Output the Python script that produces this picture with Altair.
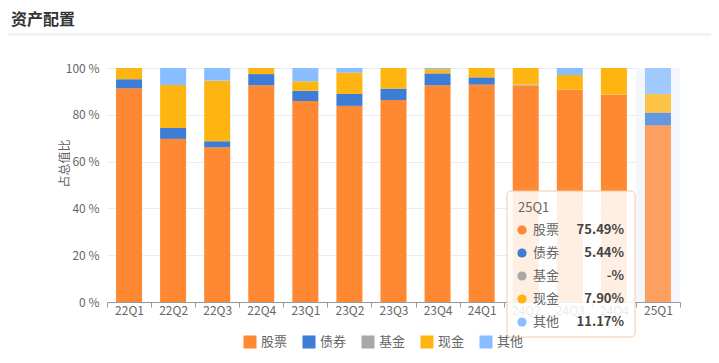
import altair as alt
import pandas as pd

quarters = ["22Q1", "22Q2", "22Q3", "22Q4", "23Q1", "23Q2", "23Q3",
            "23Q4", "24Q1", "24Q2", "24Q3", "24Q4", "25Q1"]
series = ["股票", "债券", "基金", "现金", "其他"]
stock = [91.3, 69.7, 66.1, 92.6, 85.9, 83.8, 86.3, 92.6, 92.9, 92.5, 90.7, 88.7, 75.49]
bond = [3.9, 4.7, 2.6, 4.8, 4.4, 5.1, 4.9, 5.1, 3.1, 0, 0, 0, 5.44]
fund = [0, 0, 0, 0, 0, 0, 0, 0, 0, 0.4, 0, 0, 0]
cash = [4.8, 18.3, 25.9, 2.6, 4.0, 9.1, 8.8, 1.8, 4.0, 7.1, 6.3, 11.3, 7.90]
other = [0, 7.3, 5.4, 0, 5.7, 2.0, 0, 0.5, 0, 0, 3.0, 0, 11.17]
colors = ["#FF8833", "#3D7DD6", "#A8A8A8", "#FFB511", "#88BDFF"]
hover_q = "25Q1"

FONT = "Noto Sans CJK SC"
W, H = 573, 234

rows = []
for i, q in enumerate(quarters):
    for k, (name, vals) in enumerate(zip(series, [stock, bond, fund, cash, other])):
        rows.append({"quarter": q, "series": name, "value": vals[i], "order": k})
df = pd.DataFrame(rows)

xscale = alt.Scale(domain=quarters, paddingInner=0, paddingOuter=0)

bars = alt.Chart(df).mark_bar(width=alt.RelativeBandSize(0.59)).encode(
    x=alt.X("quarter:N", scale=xscale, sort=quarters, title=None,
            axis=alt.Axis(labelAngle=0, labelColor="#666", labelFontSize=12,
                          labelFont=FONT, domainColor="#999", tickColor="#999",
                          tickSize=5, tickBand="extent",
                          labelAlign="center", labelPadding=3, grid=False,
                          labelExpr="datum.value == null ? '' : datum.value")),
    y=alt.Y("value:Q", stack="zero", scale=alt.Scale(domain=[0, 100], nice=False),
            title="占总值比",
            axis=alt.Axis(values=[0, 20, 40, 60, 80, 100], labelExpr="datum.value + ' %'",
                          labelColor="#666", labelFontSize=12, labelFont=FONT,
                          domain=False, ticks=False, gridColor="#E8ECF3",
                          labelPadding=8, titleColor="#666", titleFontSize=12,
                          titleFont=FONT, titleFontWeight="normal",
                          titleX=-36, titleY=95, titleAngle=-90)),
    color=alt.Color("series:N", scale=alt.Scale(domain=series, range=colors),
                    legend=alt.Legend(title=None, orient="none", direction="horizontal",
                                      legendX=136, legendY=267, symbolType="square",
                                      symbolSize=170, symbolStrokeWidth=0,
                                      labelFontSize=13, labelColor="#666", labelFont=FONT,
                                      columnPadding=14, symbolOpacity=1)),
    order=alt.Order("order:Q"),
    opacity=alt.condition(alt.datum.quarter == hover_q, alt.value(0.78), alt.value(1)),
)

band_df = pd.DataFrame({"quarter": [hover_q]})
band = alt.Chart(band_df).mark_bar(color="#F3F6FB", width=alt.RelativeBandSize(1)).encode(
    x=alt.X("quarter:N", scale=xscale, sort=quarters),
    y=alt.value(0), y2=alt.value(H),
)

# header
title_df = pd.DataFrame({"t": ["资产配置"]})
header_line = alt.Chart(title_df).mark_rule(color="#F2F2F2", strokeWidth=3).encode(
    x=alt.value(-99), x2=alt.value(W + 31), y=alt.value(-33.5))
header = alt.Chart(title_df).mark_text(
    align="left", baseline="middle", font=FONT, fontSize=16, fontWeight="bold",
    color="#333").encode(text="t:N", x=alt.value(-96), y=alt.value(-48))

# tooltip overlay
hi = quarters.index(hover_q)
tip_vals = [stock[hi], bond[hi], fund[hi], cash[hi], other[hi]]
tip_df = pd.DataFrame({
    "series": series,
    "label": [f"{v:.2f}%" if v > 0 else "-%" for v in tip_vals],
    "row": list(range(len(series))),
})
tip_box = alt.Chart(pd.DataFrame({"a": [0]})).mark_rect(
    fill="white", fillOpacity=0.86, stroke="#F9C8A2", strokeWidth=1, cornerRadius=4
).encode(x=alt.value(400), x2=alt.value(528), y=alt.value(123), y2=alt.value(269))
tip_title = alt.Chart(pd.DataFrame({"t": [hover_q]})).mark_text(
    align="left", baseline="middle", font=FONT, fontSize=13, color="#666"
).encode(text="t:N", x=alt.value(411), y=alt.value(140))
ypos = alt.Y("row:Q", scale=alt.Scale(domain=[0, 4], range=[162, 254]), axis=None)
tip_dots = alt.Chart(tip_df).mark_point(filled=True, size=85, opacity=1).encode(
    x=alt.value(415), y=ypos,
    color=alt.Color("series:N", scale=alt.Scale(domain=series, range=colors), legend=None))
tip_names = alt.Chart(tip_df).mark_text(
    align="left", baseline="middle", font=FONT, fontSize=13, color="#666"
).encode(text="series:N", x=alt.value(426), y=ypos)
tip_values = alt.Chart(tip_df).mark_text(
    align="right", baseline="middle", font=FONT, fontSize=13, fontWeight="bold", color="#444"
).encode(text="label:N", x=alt.value(517), y=ypos)

chart = alt.layer(
    band, bars, header_line, header, tip_box, tip_title, tip_dots, tip_names, tip_values
).resolve_scale(y="independent").properties(
    width=W, height=H,
    background="white",
    autosize=alt.AutoSizeParams(type="none"),
    padding={"left": 99, "top": 60, "right": 31, "bottom": 50},
).configure_view(stroke=None)

chart.save("out.html", embed_options={"renderer": "svg", "actions": False})
